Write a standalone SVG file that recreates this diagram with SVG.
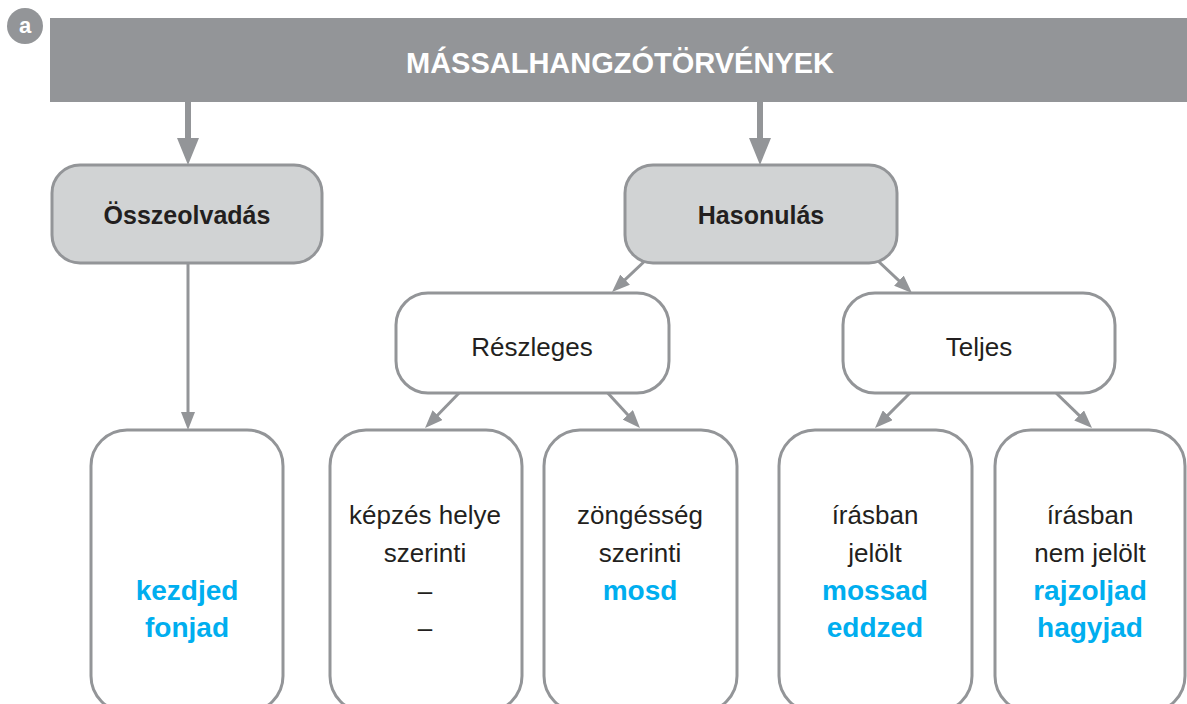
<svg xmlns="http://www.w3.org/2000/svg" width="1187" height="704" viewBox="0 0 1187 704">
  <style>
    .hdr { fill: #939598; }
    .node-grey { fill: #d1d3d4; stroke: #939598; stroke-width: 3; }
    .node-white { fill: #ffffff; stroke: #939598; stroke-width: 3; }
    .t { font-family: "Liberation Sans", Arial, sans-serif; text-anchor: middle; fill: #231f20; }
    .bold { font-weight: bold; font-size: 25px; }
    .reg { font-size: 26px; }
    .blue { font-weight: bold; font-size: 28px; fill: #00aeef; }
    .thick { stroke: #939598; stroke-width: 6; fill: none; marker-end: url(#bigArrow); }
    .thin { stroke: #939598; stroke-width: 3; fill: none; marker-end: url(#smallArrow); }
  </style>
  <defs>
    <marker id="bigArrow" markerUnits="userSpaceOnUse" markerWidth="27" markerHeight="22" refX="6" refY="11" orient="auto">
      <path d="M0,0 L27,11 L0,22 z" fill="#939598"/>
    </marker>
    <marker id="smallArrow" markerUnits="userSpaceOnUse" markerWidth="18" markerHeight="14" refX="4" refY="7" orient="auto">
      <path d="M0,0 L18,7 L0,14 z" fill="#939598"/>
    </marker>
  </defs>

  <g id="badge">
    <circle cx="25" cy="26" r="18" fill="#939598"/>
    <text x="25" y="33" class="t" style="font-size:22px;fill:#ffffff;font-weight:bold">a</text>
  </g>

  <g id="header">
    <rect x="50" y="18" width="1137" height="84" class="hdr"/>
    <text x="620" y="73" class="t" style="font-weight:bold;font-size:29px;fill:#ffffff">MÁSSALHANGZÓTÖRVÉNYEK</text>
  </g>

  <g id="connectors">
    <line x1="188" y1="102" x2="188" y2="144" class="thick"/>
    <line x1="760" y1="102" x2="760" y2="144" class="thick"/>
    <line x1="188" y1="263" x2="188" y2="416" class="thin"/>
    <line x1="648" y1="258" x2="622.2" y2="282.4" class="thin"/>
    <line x1="877" y1="260" x2="901.8" y2="283.4" class="thin"/>
    <line x1="462" y1="390" x2="434.8" y2="418" class="thin"/>
    <line x1="605" y1="390" x2="630.5" y2="417.7" class="thin"/>
    <line x1="913" y1="390" x2="884.9" y2="418.1" class="thin"/>
    <line x1="1053" y1="390" x2="1082" y2="418.2" class="thin"/>
  </g>

  <g id="osszeolvadas">
    <rect x="52" y="165" width="270" height="98" rx="28" ry="28" class="node-grey"/>
    <text x="187" y="224" class="t bold">Összeolvadás</text>
  </g>

  <g id="hasonulas">
    <rect x="625" y="165" width="272" height="98" rx="28" ry="28" class="node-grey"/>
    <text x="761" y="224" class="t bold">Hasonulás</text>
  </g>

  <g id="reszleges">
    <rect x="396" y="293" width="273" height="100" rx="32" ry="32" class="node-white"/>
    <text x="532" y="356" class="t reg">Részleges</text>
  </g>

  <g id="teljes">
    <rect x="843" y="293" width="272" height="100" rx="32" ry="32" class="node-white"/>
    <text x="979" y="356" class="t reg">Teljes</text>
  </g>

  <g id="box-osszeolvadas">
    <rect x="91" y="430" width="192" height="282" rx="36" ry="36" class="node-white"/>
    <text x="187" y="600" class="t blue">kezdjed</text>
    <text x="187" y="637" class="t blue">fonjad</text>
  </g>

  <g id="box-kepzes">
    <rect x="330" y="430" width="192" height="282" rx="36" ry="36" class="node-white"/>
    <text x="425" y="524" class="t reg">képzés helye</text>
    <text x="425" y="562" class="t reg">szerinti</text>
    <text x="425" y="600" class="t reg">–</text>
    <text x="425" y="637" class="t reg">–</text>
  </g>

  <g id="box-zongesseg">
    <rect x="544" y="430" width="193" height="282" rx="36" ry="36" class="node-white"/>
    <text x="640" y="524" class="t reg">zöngésség</text>
    <text x="640" y="562" class="t reg">szerinti</text>
    <text x="640" y="600" class="t blue">mosd</text>
  </g>

  <g id="box-jelolt">
    <rect x="779" y="430" width="193" height="282" rx="36" ry="36" class="node-white"/>
    <text x="875" y="524" class="t reg">írásban</text>
    <text x="875" y="562" class="t reg">jelölt</text>
    <text x="875" y="600" class="t blue">mossad</text>
    <text x="875" y="637" class="t blue">eddzed</text>
  </g>

  <g id="box-nem-jelolt">
    <rect x="995" y="430" width="190" height="282" rx="36" ry="36" class="node-white"/>
    <text x="1090" y="524" class="t reg">írásban</text>
    <text x="1090" y="562" class="t reg">nem jelölt</text>
    <text x="1090" y="600" class="t blue">rajzoljad</text>
    <text x="1090" y="637" class="t blue">hagyjad</text>
  </g>
</svg>
